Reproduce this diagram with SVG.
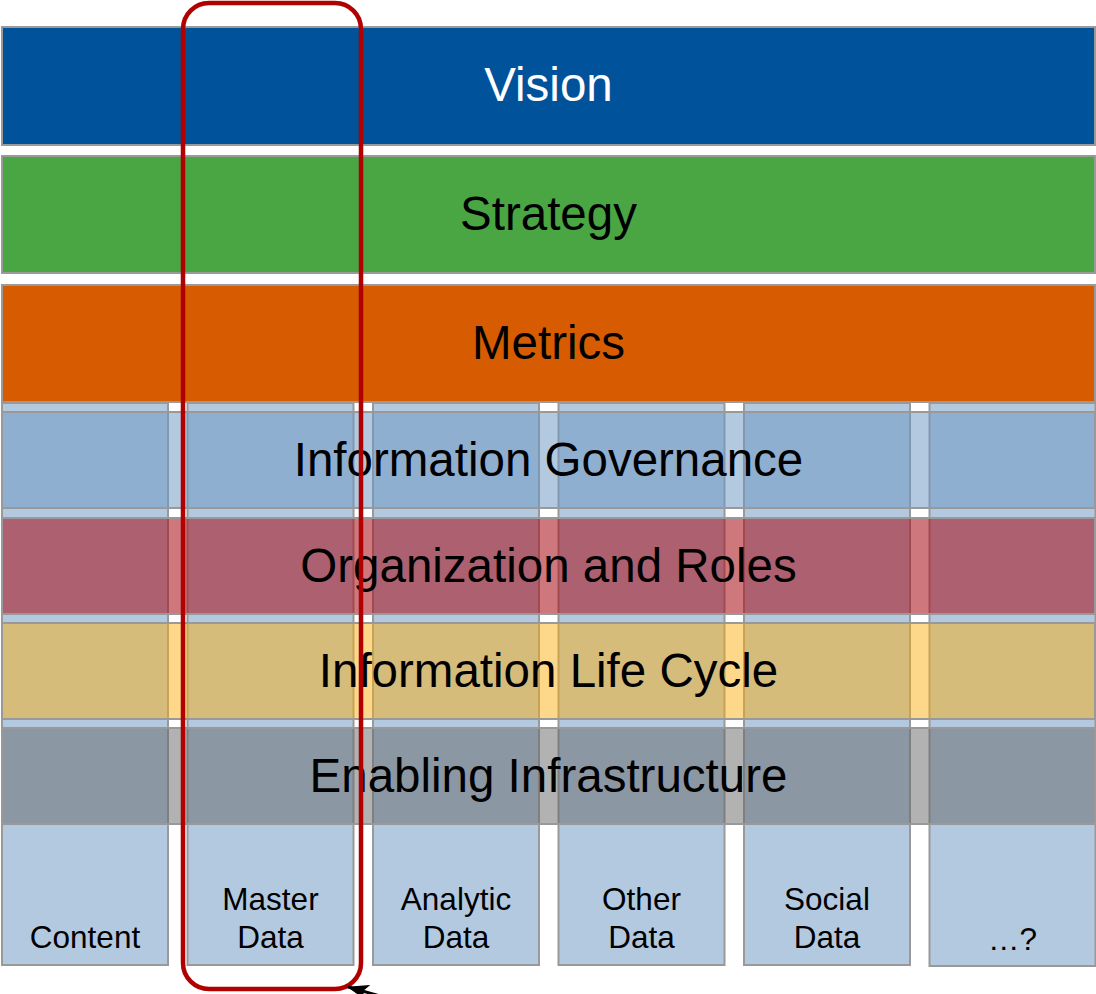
<svg xmlns="http://www.w3.org/2000/svg" width="1096" height="994" viewBox="0 0 1096 994">
<style>
.top{stroke:#9a9a9a;stroke-width:2}
.col{fill:#B3C9E0;stroke:#999;stroke-width:2}
.band{stroke:#999;stroke-width:2}
.big{font-family:"Liberation Sans",Arial,sans-serif;font-size:47.5px;text-anchor:middle}
.lbl{font-family:"Liberation Sans",Arial,sans-serif;font-size:31.5px;text-anchor:middle;fill:#000}
</style>
<defs>
<marker id="ah" viewBox="0 0 10 10" refX="9.5" refY="5" markerWidth="22" markerHeight="16" orient="auto" markerUnits="userSpaceOnUse" preserveAspectRatio="none">
<path d="M0,0 L10,5 L0,10 L2.5,5 Z" fill="#000"/>
</marker>
</defs>
<rect width="1096" height="994" fill="#fff"/>
<g id="vision"><rect class="top" x="2" y="27" width="1093" height="118" fill="#00529B"/><text class="big" x="548.5" y="101" fill="#fff">Vision</text></g>
<g id="strategy"><rect class="top" x="2" y="156" width="1093" height="117" fill="#4AA543"/><text class="big" x="548.5" y="230" fill="#000">Strategy</text></g>
<g id="metrics"><rect class="top" x="2" y="285" width="1093" height="117" fill="#D75B00"/><text class="big" x="548.5" y="359" fill="#000">Metrics</text></g>
<g id="columns">
<g id="col-content"><rect class="col" x="2" y="403" width="166" height="562"/><text class="lbl" x="85" y="948">Content</text></g>
<g id="col-master"><rect class="col" x="187.5" y="403" width="166" height="562"/><text class="lbl" x="270.5" y="910">Master</text><text class="lbl" x="270.5" y="948">Data</text></g>
<g id="col-analytic"><rect class="col" x="373" y="403" width="166" height="562"/><text class="lbl" x="456" y="910">Analytic</text><text class="lbl" x="456" y="948">Data</text></g>
<g id="col-other"><rect class="col" x="558.5" y="403" width="166" height="562"/><text class="lbl" x="641.5" y="910">Other</text><text class="lbl" x="641.5" y="948">Data</text></g>
<g id="col-social"><rect class="col" x="744" y="403" width="166" height="562"/><text class="lbl" x="827" y="910">Social</text><text class="lbl" x="827" y="948">Data</text></g>
<g id="col-more"><rect class="col" x="929.5" y="403" width="166" height="563"/><text class="lbl" x="1012.5" y="950">…?</text></g>
</g>
<g id="band-governance"><rect class="band" x="2" y="412" width="1093" height="96" fill="#6D97C3" fill-opacity="0.52"/><text class="big" x="548.5" y="476" fill="#000">Information Governance</text></g>
<g id="band-organization"><rect class="band" x="2" y="518" width="1093" height="96" fill="#A80F18" fill-opacity="0.56"/><text class="big" x="548.5" y="582" fill="#000">Organization and Roles</text></g>
<g id="band-lifecycle"><rect class="band" x="2" y="623" width="1093" height="96" fill="#FDAE0B" fill-opacity="0.48"/><text class="big" x="548.5" y="687" fill="#000">Information Life Cycle</text></g>
<g id="band-infrastructure"><rect class="band" x="2" y="728" width="1093" height="96" fill="#666668" fill-opacity="0.5"/><text class="big" x="548.5" y="792" fill="#000">Enabling Infrastructure</text></g>
<g id="highlight"><rect x="183" y="3" width="178" height="986" rx="26" ry="26" fill="none" stroke="#B00000" stroke-width="4.5"/></g>
<g id="connectors"><line x1="405" y1="1003" x2="348" y2="987" stroke="#000" stroke-width="3" marker-end="url(#ah)"/></g>
</svg>
